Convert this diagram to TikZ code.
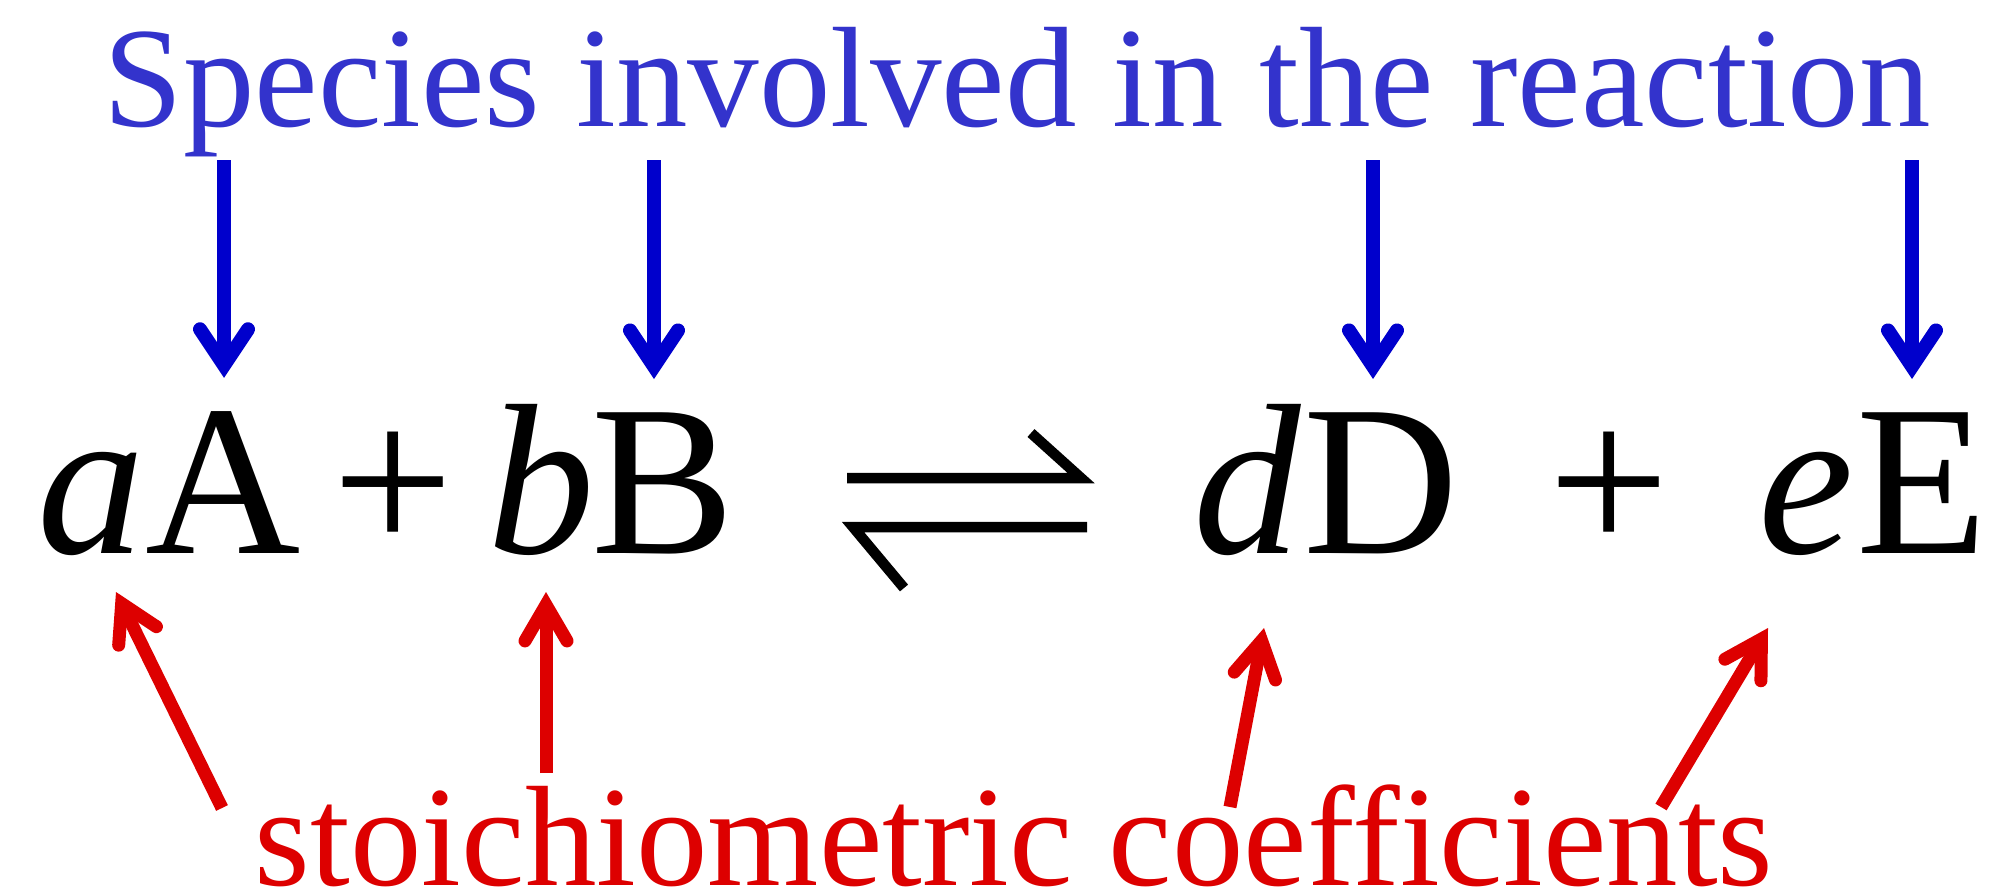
\documentclass[tikz,border=0pt]{standalone}
\usepackage{fontspec}
\setmainfont{Liberation Serif}
\usetikzlibrary{arrows.meta}
\definecolor{txtblue}{RGB}{51,51,204}
\definecolor{arrblue}{RGB}{0,0,204}
\definecolor{myred}{RGB}{221,0,0}
\begin{document}
\begin{tikzpicture}[x=1pt,y=-1pt,
  eqtext/.style={inner sep=0pt, anchor=base west, font=\fontsize{215}{220}\selectfont},
  eqital/.style={inner sep=0pt, anchor=base west, font=\fontsize{215}{220}\selectfont\itshape},
  biglabel/.style={inner sep=0pt, anchor=base, font=\fontsize{143}{150}\selectfont},
  bluearrow/.style={draw=arrblue, line width=14pt,
    -{Straight Barb[length=36pt,width=48pt,line cap=round,line join=miter]}},
  redarrow/.style={draw=myred, line width=13pt,
    -{Straight Barb[length=36pt,width=42pt,line cap=round,line join=miter]}},
  harpoon/.style={draw=black, line width=10.5pt, line cap=butt, line join=miter}
]
\useasboundingbox (0,0) rectangle (1999,894);
\fill[white] (0,0) rectangle (1999,894);

% labels
\node[biglabel, text=txtblue] (species) at (1017,126) {Species involved in the reaction};
\node[biglabel, text=myred] (coeff) at (1014,885) {stoichiometric coefficients};

% equation
\node[eqital] (a) at (37,553) {a};
\node[eqtext] (A) at (145,553) {A};
\node[eqtext] (p1) at (332,553) {+};
\node[eqital] (b) at (487,553) {b};
\node[eqtext] (B) at (591,553) {B};
\node[eqital] (d) at (1193,553) {d};
\node[eqtext] (D) at (1303,553) {D};
\node[eqtext] (p2) at (1548,553) {+};
\node[eqital] (e) at (1758,553) {e};
\node[eqtext] (E) at (1856,553) {E};

% equilibrium harpoons
\draw[harpoon] (847,478) -- (1081,478) -- (1031,433);
\draw[harpoon] (1087,527) -- (853,527) -- (904,588);

% blue arrows
\coordinate (s1) at (224,160);
\coordinate (s2) at (654,160);
\coordinate (s3) at (1373,160);
\coordinate (s4) at (1912,160);
\draw[bluearrow, shorten >=33pt] (s1) -- (s1 |- A.north);
\draw[bluearrow, shorten >=33pt] (s2) -- (s2 |- B.north);
\draw[bluearrow, shorten >=33pt] (s3) -- (s3 |- D.north);
\draw[bluearrow, shorten >=33pt] (s4) -- (s4 |- E.north);

% red arrows
\coordinate (c1) at (222,808);
\coordinate (c2) at (546,773);
\coordinate (c3) at (1230,807);
\coordinate (c4) at (1661,807);
\coordinate (t1) at (116,592);
\coordinate (t2) at (546,592);
\coordinate (t3) at (1264,628);
\coordinate (t4) at (1768,628);
\draw[redarrow] (c1) -- (t1);
\draw[redarrow] (c2) -- (t2);
\draw[redarrow] (c3) -- (t3);
\draw[redarrow] (c4) -- (t4);
\end{tikzpicture}
\end{document}
